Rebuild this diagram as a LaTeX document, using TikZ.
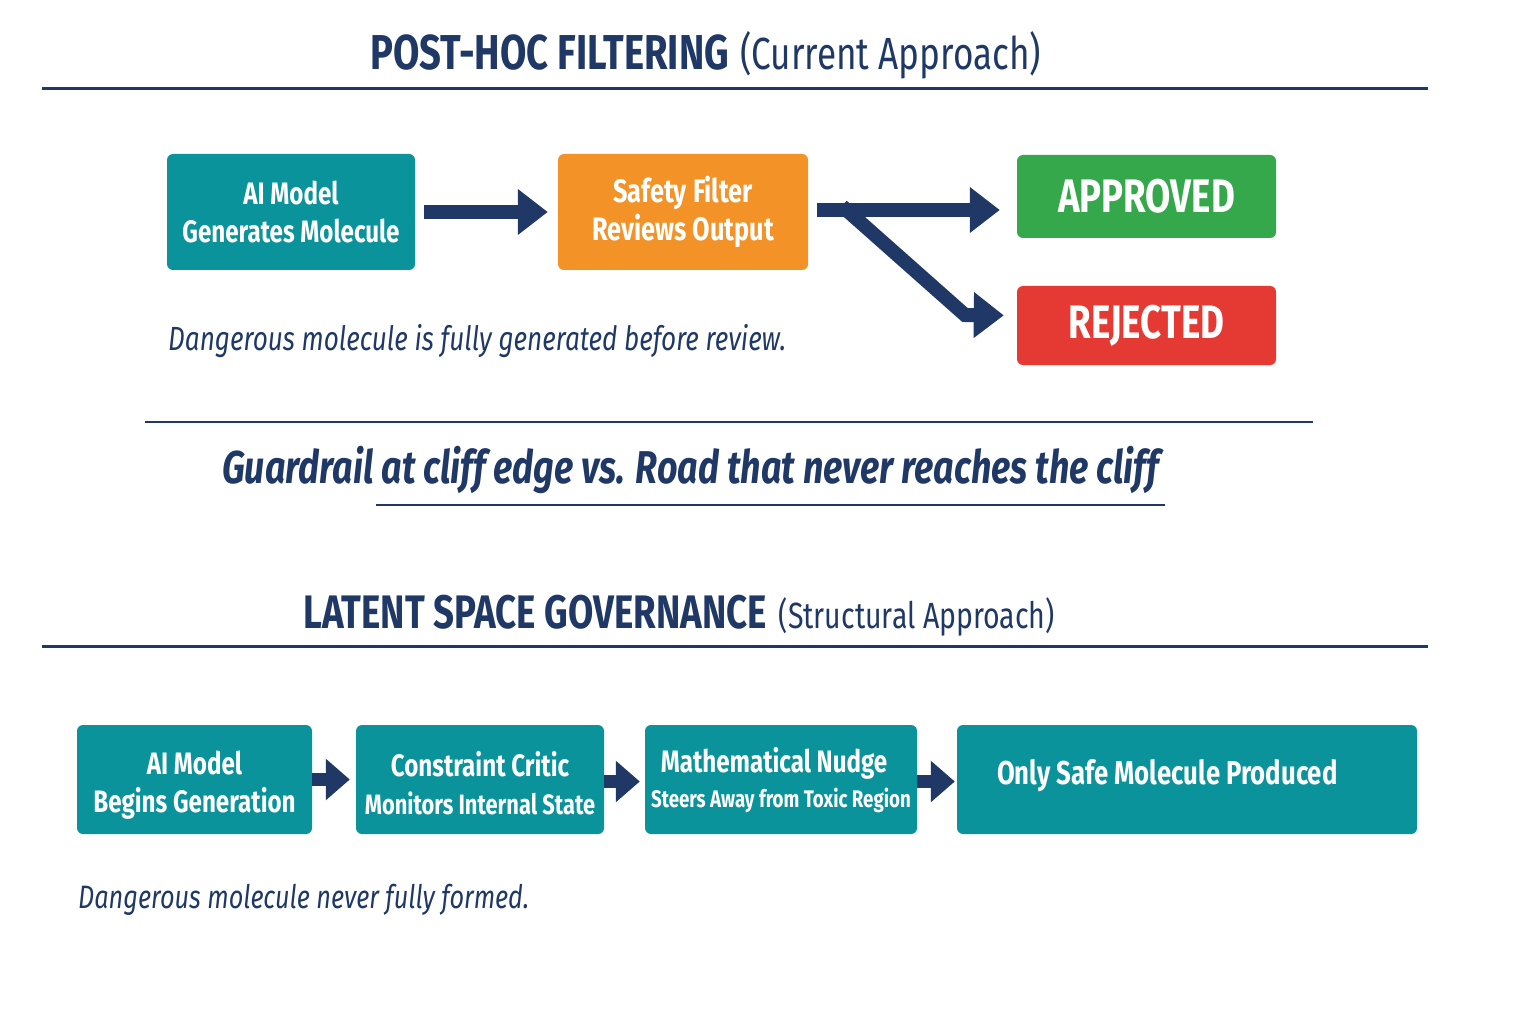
\documentclass[tikz,border=0pt]{standalone}
\usepackage{fontspec}
\setmainfont{Fira Sans}[FakeStretch=0.78]
\usetikzlibrary{arrows.meta,calc}
\definecolor{navy}{HTML}{1F3866}
\definecolor{teal}{HTML}{0B939C}
\definecolor{orng}{HTML}{F39226}
\definecolor{grn}{HTML}{34A84A}
\definecolor{rd}{HTML}{E53A33}
\tikzset{
  box/.style={rounded corners=6pt, inner sep=0pt, text=white, font=\fontsize{31}{38}\selectfont\bfseries, align=center},
  rule/.style={navy, line width=3pt},
  bigarrow/.style={navy, line width=14pt, -{Triangle[width=44pt,length=30pt]}},
  smallarrow/.style={navy, line width=13pt, -{Triangle[width=40pt,length=24pt]}},
  caption/.style={navy, font=\fontsize{33.5}{38}\selectfont\itshape, anchor=base west, inner sep=0pt},
}
\begin{document}
\begin{tikzpicture}[x=1pt,y=-1pt]
\useasboundingbox[fill=white] (0,0) rectangle (1536,1024);
% top section
\node[anchor=base west, inner sep=0pt, text=navy] (t1) at (370,70)
  {{\fontsize{49}{50}\selectfont\bfseries POST-HOC FILTERING}\hspace{11pt}{\fontsize{45}{50}\selectfont (Current Approach)}};
\draw[rule] (42,89) coordinate (l1a) -- (1428,89) coordinate (l1b);
\node[box, fill=teal, minimum width=248pt, minimum height=116pt] (m) at (291,212) {AI Model\\Generates Molecule};
\node[box, fill=orng, minimum width=250pt, minimum height=116pt, font=\fontsize{32.5}{38}\selectfont\bfseries] (s) at (683,212) {Safety Filter\\Reviews Output};
\node[box, fill=grn, minimum width=259pt, minimum height=83pt, font=\fontsize{47}{52}\selectfont\bfseries] (a) at (1146.5,196.5) {APPROVED};
\node[box, fill=rd, minimum width=259pt, minimum height=79pt, font=\fontsize{47}{52}\selectfont\bfseries] (r) at (1146.5,325.5) {REJECTED};
\draw[bigarrow, shorten <=9pt, shorten >=10pt] (m.east) -- (s.west);
\draw[bigarrow, shorten <=9pt, shorten >=17pt] ([yshift=2pt]s.east) -- ([yshift=2pt]s.east -| a.west);
\coordinate (br) at (842,206);
\coordinate (bend) at (965,315);
\draw[bigarrow, shorten >=13pt] (br) -- (bend) -- ([yshift=10pt]r.west);
\node[caption] (c1) at (168,350) {Dangerous molecule is fully generated before review.};
% middle
\draw[navy, line width=2.2pt] (145,422) coordinate (l2a) -- (1313,422) coordinate (l2b);
\node[anchor=base west, inner sep=0pt, text=navy, font=\fontsize{46}{52}\selectfont\bfseries\itshape] (g) at (222,483)
  {Guardrail at cliff edge vs. Road that never reaches the cliff};
\draw[navy, line width=2.2pt] (376,505) coordinate (l3a) -- (1165,505) coordinate (l3b);
% bottom section
\node[anchor=base west, inner sep=0pt, text=navy] (t2) at (303,628)
  {{\fontsize{47}{50}\selectfont\bfseries LATENT SPACE GOVERNANCE}\hspace{12pt}{\fontsize{36.5}{50}\selectfont (Structural Approach)}};
\draw[rule] (42,646) coordinate (l4a) -- (1428,646) coordinate (l4b);
\node[box, fill=teal, minimum width=235pt, minimum height=109pt] (b1) at (194.5,779.5) {\rule{0pt}{35pt}AI Model\\Begins Generation};
\node[box, fill=teal, minimum width=248pt, minimum height=109pt] (b2) at (480,779.5) {\rule{0pt}{33pt}Constraint Critic\\{\fontsize{28}{34}\selectfont Monitors Internal State}};
\node[box, fill=teal, minimum width=272pt, minimum height=109pt] (b3) at (781,779.5)
  {\rule{0pt}{26pt}\hspace*{-14pt}Mathematical Nudge\\[-3pt]{\fontsize{24}{30}\selectfont Steers Away from Toxic Region}};
\node[box, fill=teal, minimum width=460pt, minimum height=109pt] (b4) at (1187,779.5) {};
\node[anchor=base west, inner sep=0pt, text=white, font=\fontsize{33}{38}\selectfont\bfseries] (b4t) at (997,784) {Only Safe Molecule Produced};
\draw[smallarrow, shorten >=6pt] (b1.east) -- (b2.west);
\draw[smallarrow, shorten >=5pt] ([yshift=-2pt]b2.east) -- ([yshift=-2pt]b3.west);
\draw[smallarrow, shorten >=2pt] ([yshift=-2pt]b3.east) -- ([yshift=-2pt]b4.west);
\node[caption, font=\fontsize{32.4}{38}\selectfont\itshape] (c2) at (78,908) {Dangerous molecule never fully formed.};
\end{tikzpicture}
\end{document}
